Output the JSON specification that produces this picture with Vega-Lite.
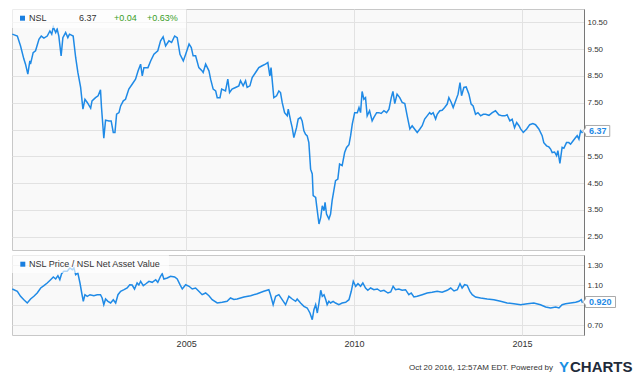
{
  "$schema": "https://vega.github.io/schema/vega-lite/v6.json",
  "padding": {"top": 8, "left": 8, "right": 0, "bottom": 0},
  "background": "white",
  "spacing": 3,
  "config": {
    "font": "Liberation Sans",
    "view": {"stroke": "#c8c8c8", "fill": "#f9f9f9"},
    "axis": {"labelFont": "Liberation Sans", "labelColor": "#333333", "gridColor": "#e2e2e2", "gridWidth": 1, "title": null, "labelOverlap": false, "labelFlush": false}
  },
  "datasets": {
    "price": [
      {"date":"1999-10-30","value":10.06},{"date":"1999-12-24","value":9.99},{"date":"2000-01-28","value":9.62},{"date":"2000-03-04","value":9.13},{"date":"2000-03-22","value":8.94},{"date":"2000-04-16","value":8.57},{"date":"2000-05-08","value":9.06},{"date":"2000-05-15","value":8.94},{"date":"2000-06-13","value":9.37},{"date":"2000-07-09","value":9.44},{"date":"2000-08-15","value":9.87},{"date":"2000-09-09","value":9.99},{"date":"2000-10-08","value":9.91},{"date":"2000-11-13","value":9.99},{"date":"2000-12-12","value":10.18},
      {"date":"2001-01-01","value":10.06},{"date":"2001-01-18","value":10.33},{"date":"2001-02-13","value":10.12},{"date":"2001-03-01","value":10.25},{"date":"2001-03-19","value":9.99},{"date":"2001-04-13","value":9.25},{"date":"2001-05-02","value":9.93},{"date":"2001-06-01","value":10.12},{"date":"2001-06-25","value":9.93},{"date":"2001-07-13","value":10.06},{"date":"2001-08-22","value":9.99},{"date":"2001-09-18","value":9.19},{"date":"2001-10-12","value":8.63},{"date":"2001-11-11","value":8.07},{"date":"2001-12-06","value":7.26},{"date":"2001-12-28","value":7.63},
      {"date":"2002-01-22","value":7.51},{"date":"2002-02-28","value":7.30},{"date":"2002-03-15","value":7.57},{"date":"2002-04-22","value":7.69},{"date":"2002-05-20","value":7.76},{"date":"2002-06-15","value":7.98},{"date":"2002-06-26","value":7.32},{"date":"2002-07-21","value":6.18},{"date":"2002-08-09","value":6.85},{"date":"2002-09-14","value":6.82},{"date":"2002-10-09","value":6.82},{"date":"2002-11-01","value":6.39},{"date":"2002-11-19","value":6.39},{"date":"2002-12-07","value":7.07},
      {"date":"2003-01-02","value":7.13},{"date":"2003-01-20","value":7.38},{"date":"2003-02-18","value":7.57},{"date":"2003-03-14","value":7.63},{"date":"2003-04-19","value":8.01},{"date":"2003-05-25","value":8.19},{"date":"2003-07-01","value":8.38},{"date":"2003-07-29","value":8.69},{"date":"2003-08-25","value":8.94},{"date":"2003-09-12","value":8.50},{"date":"2003-09-30","value":8.81},{"date":"2003-11-13","value":8.81},{"date":"2003-12-12","value":9.06},
      {"date":"2004-01-17","value":9.31},{"date":"2004-02-28","value":9.44},{"date":"2004-03-29","value":9.81},{"date":"2004-04-26","value":9.96},{"date":"2004-05-23","value":9.62},{"date":"2004-06-28","value":9.81},{"date":"2004-07-27","value":9.75},{"date":"2004-08-29","value":9.99},{"date":"2004-09-26","value":9.93},{"date":"2004-10-26","value":9.31},{"date":"2004-12-01","value":9.06},{"date":"2004-12-27","value":9.31},
      {"date":"2005-02-02","value":9.69},{"date":"2005-02-26","value":9.56},{"date":"2005-03-18","value":9.25},{"date":"2005-04-14","value":9.25},{"date":"2005-05-19","value":8.81},{"date":"2005-06-24","value":8.69},{"date":"2005-07-05","value":8.63},{"date":"2005-08-01","value":8.94},{"date":"2005-09-06","value":8.69},{"date":"2005-09-24","value":8.38},{"date":"2005-10-22","value":8.01},{"date":"2005-11-18","value":7.94},{"date":"2005-12-05","value":7.69},
      {"date":"2006-01-04","value":7.69},{"date":"2006-01-22","value":8.01},{"date":"2006-03-05","value":7.94},{"date":"2006-03-30","value":8.38},{"date":"2006-04-18","value":7.88},{"date":"2006-05-15","value":8.01},{"date":"2006-06-22","value":8.07},{"date":"2006-07-28","value":8.13},{"date":"2006-08-15","value":8.32},{"date":"2006-09-13","value":8.13},{"date":"2006-10-09","value":8.32},{"date":"2006-10-26","value":8.07},{"date":"2006-11-25","value":8.13},{"date":"2006-12-20","value":8.44},
      {"date":"2007-01-26","value":8.63},{"date":"2007-03-02","value":8.81},{"date":"2007-04-07","value":8.88},{"date":"2007-05-13","value":8.94},{"date":"2007-06-08","value":9.00},{"date":"2007-06-30","value":8.50},{"date":"2007-07-13","value":8.81},{"date":"2007-08-12","value":7.69},{"date":"2007-09-11","value":7.76},{"date":"2007-10-06","value":7.94},{"date":"2007-10-24","value":7.88},{"date":"2007-11-11","value":7.51},{"date":"2007-12-07","value":7.13},
      {"date":"2008-01-05","value":7.01},{"date":"2008-01-16","value":7.26},{"date":"2008-02-11","value":6.82},{"date":"2008-02-28","value":6.57},{"date":"2008-03-17","value":6.20},{"date":"2008-04-15","value":6.57},{"date":"2008-05-03","value":6.89},{"date":"2008-05-29","value":6.95},{"date":"2008-06-15","value":6.82},{"date":"2008-07-04","value":6.45},{"date":"2008-07-22","value":6.32},{"date":"2008-08-09","value":6.26},{"date":"2008-08-27","value":6.01},{"date":"2008-09-15","value":5.02},{"date":"2008-10-03","value":4.84},{"date":"2008-10-13","value":4.03},{"date":"2008-11-09","value":3.96},{"date":"2008-11-20","value":3.65},{"date":"2008-12-15","value":2.97},
      {"date":"2009-01-03","value":3.22},{"date":"2009-01-20","value":3.65},{"date":"2009-02-08","value":3.47},{"date":"2009-02-19","value":3.78},{"date":"2009-03-07","value":3.34},{"date":"2009-04-02","value":3.16},{"date":"2009-04-20","value":3.34},{"date":"2009-05-07","value":3.84},{"date":"2009-05-25","value":4.21},{"date":"2009-06-13","value":4.59},{"date":"2009-07-08","value":4.65},{"date":"2009-07-27","value":5.21},{"date":"2009-08-24","value":5.15},{"date":"2009-09-20","value":5.64},{"date":"2009-10-11","value":5.83},{"date":"2009-11-06","value":5.93},{"date":"2009-11-24","value":6.27},{"date":"2009-12-12","value":6.70},
      {"date":"2010-01-07","value":7.13},{"date":"2010-02-05","value":7.13},{"date":"2010-02-23","value":7.32},{"date":"2010-03-12","value":7.13},{"date":"2010-03-29","value":7.92},{"date":"2010-04-17","value":7.63},{"date":"2010-05-05","value":7.69},{"date":"2010-05-23","value":7.01},{"date":"2010-06-18","value":7.20},{"date":"2010-07-16","value":6.82},{"date":"2010-08-04","value":6.95},{"date":"2010-09-03","value":7.13},{"date":"2010-09-27","value":7.13},{"date":"2010-10-22","value":7.10},{"date":"2010-11-21","value":7.20},{"date":"2010-12-20","value":7.13},
      {"date":"2011-01-15","value":7.26},{"date":"2011-02-09","value":7.69},{"date":"2011-02-27","value":7.92},{"date":"2011-03-19","value":7.47},{"date":"2011-04-13","value":7.82},{"date":"2011-05-12","value":7.69},{"date":"2011-06-07","value":7.51},{"date":"2011-07-06","value":7.47},{"date":"2011-08-01","value":7.01},{"date":"2011-08-30","value":6.52},{"date":"2011-09-24","value":6.64},{"date":"2011-10-20","value":6.52},{"date":"2011-11-18","value":6.39},{"date":"2011-12-17","value":6.52},
      {"date":"2012-01-11","value":6.64},{"date":"2012-02-07","value":6.89},{"date":"2012-03-05","value":7.01},{"date":"2012-04-01","value":7.13},{"date":"2012-04-18","value":7.07},{"date":"2012-05-09","value":7.13},{"date":"2012-06-05","value":6.89},{"date":"2012-06-22","value":7.07},{"date":"2012-07-21","value":7.20},{"date":"2012-08-15","value":7.22},{"date":"2012-09-11","value":7.32},{"date":"2012-10-09","value":7.45},{"date":"2012-10-27","value":7.69},{"date":"2012-11-22","value":7.51},{"date":"2012-12-13","value":7.32},
      {"date":"2013-01-09","value":7.57},{"date":"2013-02-04","value":7.82},{"date":"2013-02-25","value":8.25},{"date":"2013-03-14","value":7.76},{"date":"2013-04-08","value":8.07},{"date":"2013-05-03","value":8.09},{"date":"2013-06-02","value":7.82},{"date":"2013-06-26","value":7.45},{"date":"2013-07-18","value":7.38},{"date":"2013-08-13","value":7.07},{"date":"2013-09-08","value":7.13},{"date":"2013-10-07","value":7.01},{"date":"2013-11-05","value":7.07},{"date":"2013-12-01","value":7.07},
      {"date":"2014-01-06","value":7.03},{"date":"2014-02-11","value":7.13},{"date":"2014-03-18","value":7.20},{"date":"2014-04-23","value":7.05},{"date":"2014-05-29","value":7.01},{"date":"2014-06-28","value":7.01},{"date":"2014-07-22","value":7.05},{"date":"2014-08-21","value":6.82},{"date":"2014-09-15","value":6.88},{"date":"2014-10-11","value":6.57},{"date":"2014-11-03","value":6.76},{"date":"2014-11-28","value":6.64},{"date":"2014-12-16","value":6.52},
      {"date":"2015-01-14","value":6.39},{"date":"2015-02-20","value":6.52},{"date":"2015-03-25","value":6.68},{"date":"2015-04-28","value":6.72},{"date":"2015-05-27","value":6.68},{"date":"2015-07-02","value":6.52},{"date":"2015-08-07","value":6.27},{"date":"2015-08-25","value":6.01},{"date":"2015-09-24","value":5.89},{"date":"2015-10-19","value":5.85},{"date":"2015-11-07","value":5.77},{"date":"2015-11-24","value":5.64},{"date":"2015-12-20","value":5.66},
      {"date":"2016-01-11","value":5.52},{"date":"2016-01-25","value":5.71},{"date":"2016-02-16","value":5.23},{"date":"2016-03-11","value":5.83},{"date":"2016-03-30","value":5.80},{"date":"2016-04-28","value":6.01},{"date":"2016-05-23","value":6.01},{"date":"2016-06-11","value":5.95},{"date":"2016-07-09","value":6.08},{"date":"2016-08-05","value":6.20},{"date":"2016-08-22","value":6.27},{"date":"2016-09-10","value":6.14},{"date":"2016-09-28","value":6.45},{"date":"2016-10-19","value":6.37}
    ],
    "ratio": [
      {"date":"1999-10-30","value":1.06},{"date":"1999-12-24","value":1.037},{"date":"2000-01-28","value":0.987},{"date":"2000-03-04","value":0.953},{"date":"2000-04-10","value":0.92},{"date":"2000-05-16","value":0.96},{"date":"2000-06-21","value":0.987},{"date":"2000-07-27","value":1.02},{"date":"2000-09-03","value":1.07},{"date":"2000-10-08","value":1.093},{"date":"2000-11-13","value":1.12},{"date":"2000-12-20","value":1.153},
      {"date":"2001-01-18","value":1.18},{"date":"2001-02-13","value":1.16},{"date":"2001-03-09","value":1.193},{"date":"2001-03-30","value":1.153},{"date":"2001-04-18","value":1.213},{"date":"2001-05-13","value":1.237},{"date":"2001-06-18","value":1.237},{"date":"2001-07-17","value":1.27},{"date":"2001-08-12","value":1.253},{"date":"2001-08-30","value":1.27},{"date":"2001-09-18","value":1.203},{"date":"2001-10-12","value":1.22},{"date":"2001-11-04","value":1.12},{"date":"2001-11-23","value":1.02},{"date":"2001-12-10","value":0.937},{"date":"2001-12-28","value":1.003},
      {"date":"2002-01-22","value":0.987},{"date":"2002-02-21","value":1.003},{"date":"2002-04-04","value":0.993},{"date":"2002-05-10","value":1.003},{"date":"2002-06-15","value":1.003},{"date":"2002-07-03","value":0.97},{"date":"2002-07-21","value":0.903},{"date":"2002-08-09","value":0.96},{"date":"2002-09-04","value":0.937},{"date":"2002-10-03","value":0.92},{"date":"2002-11-01","value":0.953},{"date":"2002-11-27","value":0.92},{"date":"2002-12-22","value":1.003},
      {"date":"2003-01-20","value":1.037},{"date":"2003-02-26","value":1.053},{"date":"2003-04-01","value":1.07},{"date":"2003-04-29","value":1.103},{"date":"2003-05-25","value":1.10},{"date":"2003-06-20","value":1.06},{"date":"2003-07-18","value":1.12},{"date":"2003-08-06","value":1.10},{"date":"2003-08-25","value":1.137},{"date":"2003-09-23","value":1.093},{"date":"2003-10-18","value":1.11},{"date":"2003-11-24","value":1.137},{"date":"2003-12-29","value":1.127},
      {"date":"2004-02-05","value":1.153},{"date":"2004-02-28","value":1.127},{"date":"2004-03-29","value":1.187},{"date":"2004-04-16","value":1.213},{"date":"2004-05-04","value":1.16},{"date":"2004-06-10","value":1.17},{"date":"2004-07-16","value":1.187},{"date":"2004-08-29","value":1.18},{"date":"2004-09-26","value":1.16},{"date":"2004-10-26","value":1.103},{"date":"2004-11-20","value":1.06},{"date":"2004-12-27","value":1.103},
      {"date":"2005-02-02","value":1.087},{"date":"2005-03-08","value":1.06},{"date":"2005-04-14","value":1.07},{"date":"2005-05-19","value":1.037},{"date":"2005-06-24","value":1.003},{"date":"2005-08-01","value":1.02},{"date":"2005-09-06","value":0.993},{"date":"2005-10-11","value":0.953},{"date":"2005-12-05","value":0.92},
      {"date":"2006-01-28","value":0.927},{"date":"2006-03-22","value":0.937},{"date":"2006-04-28","value":0.97},{"date":"2006-06-04","value":0.955},{"date":"2006-07-09","value":0.96},{"date":"2006-09-21","value":0.98},{"date":"2006-12-03","value":0.993},
      {"date":"2007-02-13","value":1.013},{"date":"2007-04-25","value":1.037},{"date":"2007-06-19","value":1.053},{"date":"2007-07-07","value":1.003},{"date":"2007-08-05","value":0.903},{"date":"2007-09-01","value":0.987},{"date":"2007-10-06","value":1.003},{"date":"2007-11-11","value":0.953},{"date":"2007-12-18","value":0.903},
      {"date":"2008-01-23","value":0.987},{"date":"2008-02-28","value":0.96},{"date":"2008-04-05","value":0.937},{"date":"2008-04-22","value":0.96},{"date":"2008-05-29","value":0.92},{"date":"2008-07-04","value":0.887},{"date":"2008-08-09","value":0.87},{"date":"2008-09-08","value":0.82},{"date":"2008-10-03","value":0.753},{"date":"2008-10-21","value":0.853},{"date":"2008-11-09","value":0.903},{"date":"2008-11-27","value":0.82},{"date":"2008-12-15","value":0.92},
      {"date":"2009-01-03","value":1.047},{"date":"2009-01-20","value":0.987},{"date":"2009-02-08","value":1.003},{"date":"2009-02-27","value":0.953},{"date":"2009-03-14","value":0.903},{"date":"2009-04-02","value":0.937},{"date":"2009-04-20","value":0.92},{"date":"2009-05-18","value":0.937},{"date":"2009-06-13","value":0.92},{"date":"2009-07-19","value":0.903},{"date":"2009-08-24","value":0.92},{"date":"2009-10-01","value":0.927},{"date":"2009-11-06","value":0.953},{"date":"2009-12-01","value":1.037},{"date":"2009-12-23","value":1.137},
      {"date":"2010-01-18","value":1.087},{"date":"2010-02-12","value":1.113},{"date":"2010-03-12","value":1.087},{"date":"2010-04-06","value":1.12},{"date":"2010-05-05","value":1.07},{"date":"2010-05-30","value":1.047},{"date":"2010-06-29","value":1.07},{"date":"2010-08-04","value":1.053},{"date":"2010-09-10","value":1.06},{"date":"2010-10-16","value":1.037},{"date":"2010-11-21","value":1.047},
      {"date":"2011-01-04","value":1.02},{"date":"2011-02-03","value":1.03},{"date":"2011-03-01","value":1.087},{"date":"2011-03-27","value":1.053},{"date":"2011-05-02","value":1.06},{"date":"2011-06-07","value":1.047},{"date":"2011-07-14","value":1.053},{"date":"2011-08-19","value":1.003},{"date":"2011-09-14","value":1.02},{"date":"2011-10-13","value":0.98},{"date":"2011-11-18","value":0.987},
      {"date":"2012-01-11","value":1.003},{"date":"2012-03-05","value":1.02},{"date":"2012-04-28","value":1.027},{"date":"2012-06-22","value":1.037},{"date":"2012-08-15","value":1.027},{"date":"2012-10-09","value":1.047},{"date":"2012-11-16","value":1.07},{"date":"2012-12-22","value":1.04},
      {"date":"2013-01-27","value":1.053},{"date":"2013-02-25","value":1.113},{"date":"2013-03-20","value":1.07},{"date":"2013-04-16","value":1.103},{"date":"2013-05-14","value":1.097},{"date":"2013-06-13","value":1.037},{"date":"2013-07-08","value":1.003},{"date":"2013-08-13","value":0.98},{"date":"2013-10-07","value":0.97},{"date":"2013-12-18","value":0.96},
      {"date":"2014-02-28","value":0.953},{"date":"2014-05-12","value":0.937},{"date":"2014-07-22","value":0.92},{"date":"2014-10-04","value":0.913},{"date":"2014-12-16","value":0.903},
      {"date":"2015-02-27","value":0.913},{"date":"2015-05-09","value":0.92},{"date":"2015-07-20","value":0.903},{"date":"2015-09-14","value":0.88},{"date":"2015-11-07","value":0.87},
      {"date":"2016-01-01","value":0.88},{"date":"2016-02-06","value":0.87},{"date":"2016-03-11","value":0.903},{"date":"2016-04-18","value":0.913},{"date":"2016-06-11","value":0.92},{"date":"2016-08-05","value":0.927},{"date":"2016-09-10","value":0.937},{"date":"2016-10-05","value":0.953},{"date":"2016-10-19","value":0.92}
    ]
  },
  "vconcat": [
    {
      "width": 572,
      "height": 241,
      "layer": [
        {
          "data": {"name": "price"},
          "mark": {"type": "line", "color": "#1f8ae6", "strokeWidth": 1.5},
          "encoding": {
            "x": {"field": "date", "type": "temporal",
              "scale": {"domain": [{"year": 1999, "month": 10, "date": 27}, {"year": 2016, "month": 11, "date": 4}]},
              "axis": {"values": [{"year": 2005, "month": 1, "date": 1}, {"year": 2010, "month": 1, "date": 1}, {"year": 2015, "month": 1, "date": 1}], "tickCount": 30, "labels": false, "ticks": false, "domain": false, "grid": true}},
            "y": {"field": "value", "type": "quantitative",
              "scale": {"domain": [2, 11], "nice": false, "zero": false},
              "axis": {"orient": "right", "values": [2.5, 3.5, 4.5, 5.5, 6.5, 7.5, 8.5, 9.5, 10.5], "tickCount": 30, "format": ".2f", "labelExpr": "datum.value == 6.5 ? '' : datum.label", "labelOverlap": false, "labelFlush": false, "labelBound": false, "ticks": false, "domain": true, "domainColor": "#777777", "labelPadding": 3, "labelFontSize": 8, "grid": true}}
          }
        },
        {
          "data": {"values": [{}]},
          "mark": {"type": "rect", "fill": "#ffffff", "opacity": 0.65},
          "encoding": {
            "x": {"datum": {"year": 1999, "month": 10, "date": 27}, "type": "temporal"},
            "x2": {"datum": {"year": 2005, "month": 1, "date": 1}},
            "y": {"datum": 11, "type": "quantitative"},
            "y2": {"datum": 10.29}
          }
        },
        {
          "data": {"values": [{}]},
          "mark": {"type": "point", "shape": "square", "filled": true, "size": 25, "color": "#1a7fe0", "opacity": 1, "xOffset": 10.5, "yOffset": 9.2},
          "encoding": {
            "x": {"datum": {"year": 1999, "month": 10, "date": 27}, "type": "temporal"},
            "y": {"datum": 11, "type": "quantitative"}
          }
        },
        {
          "data": {"values": [{}]},
          "mark": {"type": "text", "text": "NSL", "align": "left", "baseline": "middle", "dx": 17, "dy": 9, "fontSize": 9, "color": "#333333"},
          "encoding": {
            "x": {"datum": {"year": 1999, "month": 10, "date": 27}, "type": "temporal"},
            "y": {"datum": 11, "type": "quantitative"}
          }
        },
        {
          "data": {"values": [{}]},
          "mark": {"type": "text", "text": "6.37", "align": "left", "baseline": "middle", "dx": 67, "dy": 9, "fontSize": 9, "color": "#333333"},
          "encoding": {
            "x": {"datum": {"year": 1999, "month": 10, "date": 27}, "type": "temporal"},
            "y": {"datum": 11, "type": "quantitative"}
          }
        },
        {
          "data": {"values": [{}]},
          "mark": {"type": "text", "text": "+0.04", "align": "left", "baseline": "middle", "dx": 102, "dy": 9, "fontSize": 9, "color": "#3a9e27"},
          "encoding": {
            "x": {"datum": {"year": 1999, "month": 10, "date": 27}, "type": "temporal"},
            "y": {"datum": 11, "type": "quantitative"}
          }
        },
        {
          "data": {"values": [{}]},
          "mark": {"type": "text", "text": "+0.63%", "align": "left", "baseline": "middle", "dx": 135, "dy": 9, "fontSize": 9, "color": "#3a9e27"},
          "encoding": {
            "x": {"datum": {"year": 1999, "month": 10, "date": 27}, "type": "temporal"},
            "y": {"datum": 11, "type": "quantitative"}
          }
        },
        {
          "data": {"values": [{}]},
          "mark": {"type": "point", "shape": "M0,0 L0.55,-0.5 L0.55,-1 L4.95,-1 L4.95,1 L0.55,1 L0.55,0.5 Z", "size": 121, "filled": false, "fill": "#ffffff", "fillOpacity": 1, "stroke": "#aaaaaa", "strokeWidth": 1, "opacity": 1, "yOffset": -2},
          "encoding": {
            "x": {"datum": {"year": 2016, "month": 10, "date": 19}, "type": "temporal"},
            "y": {"datum": 6.37, "type": "quantitative"}
          }
        },
        {
          "data": {"values": [{}]},
          "mark": {"type": "text", "text": "6.37", "align": "left", "baseline": "middle", "dx": 6.5, "dy": -2, "fontSize": 9, "fontWeight": "bold", "color": "#1f8ae6"},
          "encoding": {
            "x": {"datum": {"year": 2016, "month": 10, "date": 19}, "type": "temporal"},
            "y": {"datum": 6.37, "type": "quantitative"}
          }
        }
      ]
    },
    {
      "width": 572,
      "height": 80,
      "layer": [
        {
          "data": {"name": "ratio"},
          "mark": {"type": "line", "color": "#1f8ae6", "strokeWidth": 1.5},
          "encoding": {
            "x": {"field": "date", "type": "temporal",
              "scale": {"domain": [{"year": 1999, "month": 10, "date": 27}, {"year": 2016, "month": 11, "date": 4}]},
              "axis": {"values": [{"year": 2005, "month": 1, "date": 1}, {"year": 2010, "month": 1, "date": 1}, {"year": 2015, "month": 1, "date": 1}], "tickCount": 30, "format": "%Y", "labels": true, "labelFontSize": 9, "labelPadding": 4, "labelOverlap": false, "ticks": false, "domain": false, "grid": true}},
            "y": {"field": "value", "type": "quantitative",
              "scale": {"domain": [0.6, 1.4], "nice": false, "zero": false},
              "axis": {"orient": "right", "values": [0.7, 0.9, 1.1, 1.3], "tickCount": 30, "format": ".2f", "labelExpr": "datum.value == 0.9 ? '' : datum.label", "labelOverlap": false, "labelFlush": false, "labelBound": false, "ticks": false, "domain": true, "domainColor": "#777777", "labelPadding": 3, "labelFontSize": 8, "grid": true}}
          }
        },
        {
          "data": {"values": [{}]},
          "mark": {"type": "rect", "fill": "#ffffff", "opacity": 0.65},
          "encoding": {
            "x": {"datum": {"year": 1999, "month": 10, "date": 27}, "type": "temporal"},
            "x2": {"datum": {"year": 2004, "month": 6, "date": 28}},
            "y": {"datum": 1.4, "type": "quantitative"},
            "y2": {"datum": 1.22}
          }
        },
        {
          "data": {"values": [{}]},
          "mark": {"type": "point", "shape": "square", "filled": true, "size": 25, "color": "#1a7fe0", "opacity": 1, "xOffset": 10.8, "yOffset": 9.2},
          "encoding": {
            "x": {"datum": {"year": 1999, "month": 10, "date": 27}, "type": "temporal"},
            "y": {"datum": 1.4, "type": "quantitative"}
          }
        },
        {
          "data": {"values": [{}]},
          "mark": {"type": "text", "text": "NSL Price / NSL Net Asset Value", "align": "left", "baseline": "middle", "dx": 17, "dy": 9, "fontSize": 9, "color": "#333333"},
          "encoding": {
            "x": {"datum": {"year": 1999, "month": 10, "date": 27}, "type": "temporal"},
            "y": {"datum": 1.4, "type": "quantitative"}
          }
        },
        {
          "data": {"values": [{}]},
          "mark": {"type": "point", "shape": "M0,0 L0.55,-0.5 L0.55,-1 L6,-1 L6,1 L0.55,1 L0.55,0.5 Z", "size": 121, "filled": false, "fill": "#ffffff", "fillOpacity": 1, "stroke": "#aaaaaa", "strokeWidth": 1, "opacity": 1, "yOffset": -1},
          "encoding": {
            "x": {"datum": {"year": 2016, "month": 10, "date": 19}, "type": "temporal"},
            "y": {"datum": 0.92, "type": "quantitative"}
          }
        },
        {
          "data": {"values": [{}]},
          "mark": {"type": "text", "text": "0.920", "align": "left", "baseline": "middle", "dx": 6.5, "dy": -1, "fontSize": 9, "fontWeight": "bold", "color": "#1f8ae6"},
          "encoding": {
            "x": {"datum": {"year": 2016, "month": 10, "date": 19}, "type": "temporal"},
            "y": {"datum": 0.92, "type": "quantitative"}
          }
        },
        {
          "data": {"values": [{}]},
          "mark": {"type": "text", "text": "Oct 20 2016, 12:57AM EDT. Powered by", "align": "right", "baseline": "middle", "dx": -31, "dy": 33, "fontSize": 8, "color": "#333333"},
          "encoding": {
            "x": {"datum": {"year": 2016, "month": 11, "date": 4}, "type": "temporal"},
            "y": {"datum": 0.6, "type": "quantitative"}
          }
        },
        {
          "data": {"values": [{}]},
          "mark": {"type": "text", "text": "Y", "align": "left", "baseline": "middle", "dx": -25, "dy": 32, "fontSize": 15, "fontWeight": "bold", "color": "#1a8fe3"},
          "encoding": {
            "x": {"datum": {"year": 2016, "month": 11, "date": 4}, "type": "temporal"},
            "y": {"datum": 0.6, "type": "quantitative"}
          }
        },
        {
          "data": {"values": [{}]},
          "mark": {"type": "text", "text": "CHARTS", "align": "left", "baseline": "middle", "dx": -14, "dy": 32, "fontSize": 15, "fontWeight": "bold", "color": "#1f2b3a"},
          "encoding": {
            "x": {"datum": {"year": 2016, "month": 11, "date": 4}, "type": "temporal"},
            "y": {"datum": 0.6, "type": "quantitative"}
          }
        }
      ]
    }
  ]
}
